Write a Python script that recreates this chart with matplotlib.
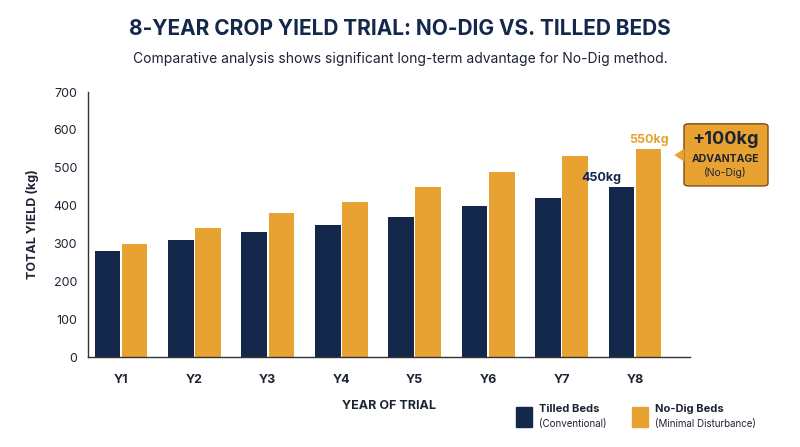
import numpy as np
import matplotlib.pyplot as plt
from matplotlib.patches import FancyBboxPatch, Polygon

plt.rcParams['font.family'] = ['Inter', 'DejaVu Sans']

years = ['Y1', 'Y2', 'Y3', 'Y4', 'Y5', 'Y6', 'Y7', 'Y8']
tilled = [280, 310, 330, 350, 370, 400, 420, 450]
nodig = [300, 340, 380, 410, 450, 490, 530, 550]

navy = '#14284b'
orange = '#e8a232'
text_dark = '#1c2333'

fig = plt.figure(figsize=(8, 4.47), dpi=100)
ax = fig.add_axes([0.11, 0.201, 0.7525, 0.593])

x = np.arange(len(years))
w = 0.35
ax.bar(x - w / 2 - 0.01, tilled, w, color=navy)
ax.bar(x + w / 2 + 0.01, nodig, w, color=orange)

ax.set_xlim(-0.45, 7.75)
ax.set_ylim(0, 700)
ax.set_yticks(range(0, 701, 100))
ax.set_xticks(x)
ax.set_xticklabels(years, fontsize=9, fontweight='bold', color=text_dark)
ax.tick_params(axis='y', labelsize=9, colors=text_dark, length=0, pad=8)
ax.tick_params(axis='x', length=0, pad=12)
for s in ['top', 'right']:
    ax.spines[s].set_visible(False)
for s in ['left', 'bottom']:
    ax.spines[s].set_color('#333333')
    ax.spines[s].set_linewidth(1)
ax.set_ylabel('TOTAL YIELD (kg)', fontsize=9, fontweight='bold', color=text_dark, labelpad=10)
ax.set_xlabel('YEAR OF TRIAL', fontsize=9, fontweight='bold', color=text_dark, labelpad=10)

ax.text(x[-1] - w / 2 - 0.01, tilled[-1] + 8, f'{tilled[-1]}kg', ha='right', va='bottom',
        fontsize=9, fontweight='bold', color=navy)
ax.text(x[-1] + w / 2 + 0.01, nodig[-1] + 8, f'{nodig[-1]}kg', ha='center', va='bottom',
        fontsize=9, fontweight='bold', color=orange)

# advantage callout
box = FancyBboxPatch((0.855, 0.584), 0.105, 0.139, boxstyle='round,pad=0,rounding_size=0.006',
                     transform=fig.transFigure, facecolor=orange, edgecolor='#7a4e10', linewidth=1)
fig.patches.append(box)
fig.patches.append(Polygon([[0.8555, 0.668], [0.843, 0.653], [0.8555, 0.638]], closed=True,
                           transform=fig.transFigure, facecolor=orange, edgecolor='none'))
fig.text(0.907, 0.687, f'+{nodig[-1] - tilled[-1]}kg', ha='center', va='center',
         fontsize=13, fontweight='bold', color=text_dark)
fig.text(0.907, 0.645, 'ADVANTAGE', ha='center', va='center', fontsize=7.5, fontweight='bold', color=text_dark)
fig.text(0.907, 0.614, '(No-Dig)', ha='center', va='center', fontsize=7.5, color=text_dark)

fig.text(0.5, 0.935, '8-YEAR CROP YIELD TRIAL: NO-DIG VS. TILLED BEDS', ha='center', va='center',
         fontsize=15, fontweight='bold', color=navy)
fig.text(0.5, 0.868, 'Comparative analysis shows significant long-term advantage for No-Dig method.',
         ha='center', va='center', fontsize=10, color=text_dark)

# legend
fig.patches.append(plt.Rectangle((0.645, 0.045), 0.02, 0.045, transform=fig.transFigure, color=navy))
fig.text(0.674, 0.085, 'Tilled Beds', fontsize=8, fontweight='bold', color=text_dark, va='center')
fig.text(0.674, 0.052, '(Conventional)', fontsize=7, color=text_dark, va='center')
fig.patches.append(plt.Rectangle((0.79, 0.045), 0.02, 0.045, transform=fig.transFigure, color=orange))
fig.text(0.819, 0.085, 'No-Dig Beds', fontsize=8, fontweight='bold', color=text_dark, va='center')
fig.text(0.819, 0.052, '(Minimal Disturbance)', fontsize=7, color=text_dark, va='center')

fig.savefig('out.png', dpi=100)
